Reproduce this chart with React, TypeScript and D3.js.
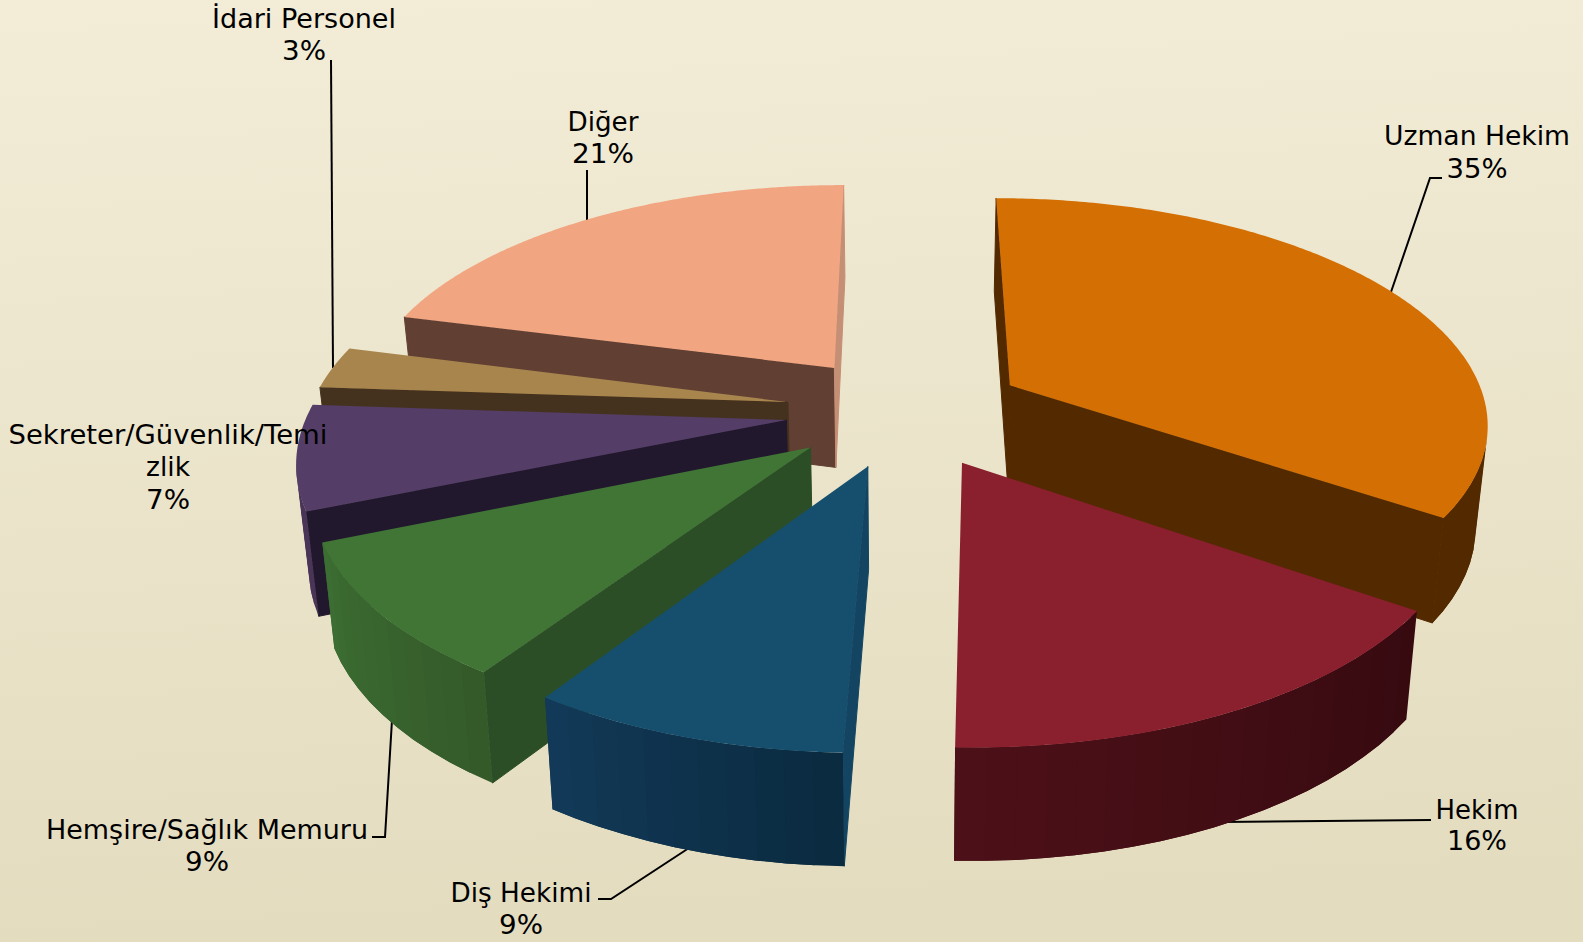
import React from "react";
import * as d3 from "d3";

const categories = ["Uzman Hekim", "Hekim", "Diş Hekimi", "Hemşire/Sağlık Memuru", "Sekreter/Güvenlik/Temizlik", "İdari Personel", "Diğer"];
const values = [34.53, 15.94, 8.86, 9.44, 7.31, 2.97, 20.94];
const topColors = ["#D46F04", "#8A1F2E", "#164F6E", "#417535", "#543D66", "#A9854E", "#F2A581"];
const startCutColors = ["#532A00", "#360A10", "#134562", "#2C4E27", "#21182E", "#45321E", "#614033"];
const endCutColors = ["#532A00", "#360A10", "#0F2F47", "#2C4E27", "#21182E", "#45321E", "#C58F75"];
const rimStartColors = ["#532A00", "#360A10", "#0A2A3F", "#34592A", "#4A3558", "#6A5230", "#614033"];
const rimEndColors = ["#532A00", "#4D1018", "#123A58", "#3C6E32", "#4A3558", "#6A5230", "#614033"];

const labelLines = [
  { x: 1477, y: [145, 178], w: [186, 61], t: ["Uzman Hekim", "35%"] },
  { x: 1477, y: [819, 850], w: [83, 60], t: ["Hekim", "16%"] },
  { x: 521, y: [902, 934], w: [141, 44], t: ["Diş Hekimi", "9%"] },
  { x: 207, y: [839, 871], w: [322, 44], t: ["Hemşire/Sağlık Memuru", "9%"] },
  { x: 168, y: [444, 476, 509], w: [319, 44, 44], t: ["Sekreter/Güvenlik/Temi", "zlik", "7%"] },
  { x: 304, y: [28, 60], w: [184, 44], t: ["İdari Personel", "3%"] },
  { x: 603, y: [131, 163], w: [71, 62], t: ["Diğer", "21%"] },
];
const leaderLines: [number, number][][] = [
  [[1442, 178], [1430, 178], [1391, 292]],
  [[1431, 820], [1222, 822]],
  [[598, 899], [611, 899], [692, 846]],
  [[372, 837], [385, 837], [392, 720]],
  [[331, 60], [333, 368]],
  [[587, 170], [587, 221]],
];

const W = 1583, H = 942;
const cx = 905.6, cy = 411, focalX = 3108, focalY = 1451, camera = 6.5, explode = 0.251;
const wallHeight = 101, wallGrow = 0.037, wallConverge = 0.0207;

type P = [number, number];
const project = (X: number, Y: number): P => [cx + (focalX * X) / (camera + Y), cy - (focalY * Y) / (camera + Y)];
const drop = ([x, y]: P): P => [x + (cx - x) * wallConverge, y + wallHeight + wallGrow * (y - cy)];
const facing = (p: P, q: P) => {
  const d = drop(p);
  return (q[0] - p[0]) * (d[1] - p[1]) - (q[1] - p[1]) * (d[0] - p[0]) < 0;
};
const line = d3.line<P>();
const arcs = d3.pie<number>().sort(null).value((d) => d)(values);

export default function App() {
  const slices = arcs.map((a, i) => {
    const mid = (a.startAngle + a.endAngle) / 2;
    const ox = explode * Math.sin(mid), oy = explode * Math.cos(mid);
    const at = (ang: number): P => project(ox + Math.sin(ang), oy + Math.cos(ang));
    const apex = project(ox, oy);
    const steps = Math.max(3, Math.round(((a.endAngle - a.startAngle) * 180) / Math.PI / 3));
    const angs = d3.range(steps + 1).map((k) => a.startAngle + ((a.endAngle - a.startAngle) * k) / steps);
    const rim = angs.map(at);
    const fine = d3.range(0, 1.0001, 1 / 200).map((t) => at(a.startAngle + (a.endAngle - a.startAngle) * t));
    const top = line([apex, ...fine]) + "Z";
    const color = d3.interpolateRgb(rimStartColors[i], rimEndColors[i]);
    const faces: { d: string; fill: string; sw: number }[] = [];
    if (facing(apex, rim[0])) faces.push({ d: line([apex, rim[0], drop(rim[0]), drop(apex)]) + "Z", fill: startCutColors[i], sw: 1 });
    if (facing(rim[steps], apex)) faces.push({ d: line([apex, rim[steps], drop(rim[steps]), drop(apex)]) + "Z", fill: endCutColors[i], sw: 1 });
    // each band runs one step past its own end, so that the next band paints over the seam
    d3.range(steps).forEach((k) => {
      if (!facing(rim[k], rim[k + 1])) return;
      const band = rim.slice(k, Math.min(k + 3, steps + 1));
      faces.push({ d: line([...band, ...band.map(drop).reverse()]) + "Z", fill: color((k + 0.5) / steps), sw: 0 });
    });
    return { i, depth: Math.cos(mid), top, faces };
  }).sort((p, q) => d3.descending(p.depth, q.depth));

  return (
    <svg width={W} height={H} viewBox={`0 0 ${W} ${H}`} style={{ position: "absolute", left: 0, top: 0 }}>
      <defs>
        <linearGradient id="bg" x1="0" y1="0" x2="0.08" y2="1">
          <stop offset="0" stopColor="#F3EDD8" />
          <stop offset="1" stopColor="#E3DCBF" />
        </linearGradient>
      </defs>
      <rect width={W} height={H} fill="url(#bg)" />
      {leaderLines.map((l, i) => (
        <path key={i} d={line(l as P[]) ?? ""} fill="none" stroke="#000" strokeWidth={2} />
      ))}
      {slices.map((s) => (
        <g key={categories[s.i]}>
          {s.faces.map((p, pi) => <path key={pi} d={p.d} fill={p.fill} stroke={p.sw ? p.fill : "none"} strokeWidth={p.sw} />)}
          <path d={s.top} fill={topColors[s.i]} />
        </g>
      ))}
      {labelLines.flatMap((l, i) =>
        l.t.map((t, k) => (
          <text key={`${i}-${k}`} x={l.x} y={l.y[k]} textAnchor="middle" textLength={l.w[k]} lengthAdjust="spacingAndGlyphs"
            fontFamily="'DejaVu Sans', Verdana, sans-serif" fontSize={26} fill="#000">{t}</text>
        ))
      )}
    </svg>
  );
}
